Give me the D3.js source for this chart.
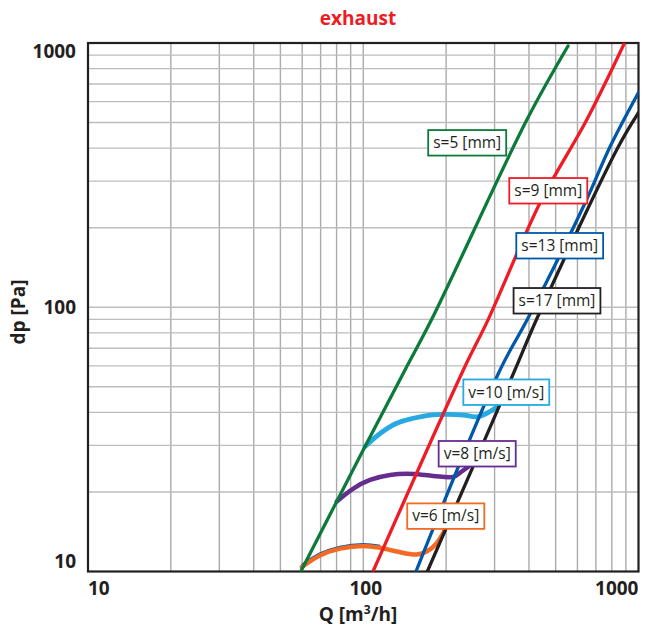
<!DOCTYPE html>
<html><head><meta charset="utf-8">
<script src="https://cdn.jsdelivr.net/npm/d3@7"></script>
<style>
html,body{margin:0;padding:0;background:#fff;}
svg{display:block;font-family:"Open Sans","Noto Sans",sans-serif;}
</style></head>
<body>
<svg id="chart" width="652" height="631"></svg>
<script>
// ---------- data ----------
const xTickValues = [10, 100, 1000];
const yTickValues = [10, 100, 1000];
const xTickLabels = ["10", "100", "1000"];
const yTickLabels = ["10", "100", "1000"];
const titleText = "exhaust";
const xTitle = "Q [m³/h]";
const yTitle = "dp [Pa]";

// s-lines (Q [m3/h], dp [Pa])
const s5Q  = [59.3, 101.5, 141.8, 177.3, 392.6, 554.6];
const s5Dp = [10, 29.7, 57.9, 90.0, 511, 974];
const s9Q  = [108.5, 231, 284.6, 438.6, 648, 886];
const s9Dp = [10, 57.9, 90.0, 248, 511, 991];
const s13Q  = [155.4, 314, 397, 639, 788, 1000];
const s13Dp = [10, 57.9, 91, 247.5, 405, 650];
const s17Q  = [170.9, 355.8, 426.8, 844.6, 1000];
const s17Dp = [10, 57.9, 90.3, 405, 545];

// v-curves
const v10Q  = [101.5, 115.1, 132.3, 152.0, 174.8, 201.0, 231.0, 258.4, 280.9, 309.5];
const v10Dp = [29.7, 33.3, 36.4, 38.0, 39.1, 39.3, 39.1, 38.5, 39.7, 42.3];
const v8Q  = [80.1, 92.0, 105.8, 125.1, 152.0, 179.7, 212.4, 227.9, 240.8];
const v8Dp = [18.4, 20.6, 22.2, 23.2, 23.4, 23.0, 22.8, 23.9, 24.9];
const v6Q  = [59.8, 69.6, 82.3, 100.0, 115.1, 132.3, 156.4, 170.1, 184.9, 198.2];
const v6Dp = [10.4, 11.5, 12.2, 12.5, 12.3, 11.9, 11.6, 11.9, 12.8, 14.4];

const seriesNames = ["s=5 [mm]", "s=9 [mm]", "s=13 [mm]", "s=17 [mm]", "v=10 [m/s]", "v=8 [m/s]", "v=6 [m/s]"];
// label anchor (box centre) in data units
const labelQ  = [238.6, 470.1, 517.3, 505.7, 330.9, 259.4, 199.4];
const labelDp = [419, 275.9, 170.9, 105.8, 47.7, 27.9, 16.2];

// ---------- layout / style ----------
const W = 652, H = 631;
const plot = {left: 88, right: 638.5, top: 43, bottom: 571.5};
const colors = {
  s5: "#0b7a3b", s9: "#ee1d25", s13: "#0058a9", s17: "#231f20",
  v10: "#27aae1", v8: "#662d91", v6: "#f26a24"
};
const textColor = "#231f20";

const svg = d3.select("#chart");
const x = d3.scaleLog().domain([10, 1000]).range([plot.left, plot.right]);
const y = d3.scaleLog().domain([10, 1000]).range([plot.bottom, plot.top]);

svg.append("defs").append("clipPath").attr("id", "clip")
  .append("rect").attr("x", plot.left).attr("y", plot.top)
  .attr("width", plot.right - plot.left).attr("height", plot.bottom - plot.top);

// gridlines
const gridVals = [];
for (let d = 10; d < 1000; d *= 10) for (let k = 1; k <= 10; k++) gridVals.push(d * k);
const uniq = Array.from(new Set(gridVals.map(v => Math.round(v)))).filter(v => v > 10 && v < 1000);
const grid = svg.append("g");
grid.selectAll("line.gx").data(uniq).join("line")
  .attr("x1", d => x(d)).attr("x2", d => x(d))
  .attr("y1", plot.top).attr("y2", plot.bottom)
  .attr("stroke", "#ababab").attr("stroke-width", 1.4);
grid.selectAll("line.gy").data(uniq).join("line")
  .attr("y1", d => y(d)).attr("y2", d => y(d))
  .attr("x1", plot.left).attr("x2", plot.right)
  .attr("stroke", "#bdbdbd").attr("stroke-width", 1.4);

// frame
svg.append("rect").attr("x", plot.left).attr("y", plot.top)
  .attr("width", plot.right - plot.left).attr("height", plot.bottom - plot.top)
  .attr("fill", "none").attr("stroke", textColor).attr("stroke-width", 2.2);

const toPts = (qs, ds) => qs.map((q, i) => [q, ds[i]]);
const lineSmooth = d3.line().x(d => x(d[0])).y(d => y(d[1])).curve(d3.curveCatmullRom.alpha(0.5));
const lines = svg.append("g").attr("clip-path", "url(#clip)");

// v-curves first (under s-lines)
// blue shadow under the beginning of v=6
lines.append("path").datum(toPts(v6Q.slice(0, 5), v6Dp.slice(0, 5)))
  .attr("d", lineSmooth).attr("fill", "none").attr("stroke", colors.s13)
  .attr("stroke-width", 3).attr("transform", "translate(0,-1.5)");
[[v10Q, v10Dp, colors.v10, 4.8], [v8Q, v8Dp, colors.v8, 4.5], [v6Q, v6Dp, colors.v6, 4.5]].forEach(s => {
  lines.append("path").datum(toPts(s[0], s[1])).attr("d", lineSmooth)
    .attr("fill", "none").attr("stroke", s[2]).attr("stroke-width", s[3])
    .attr("stroke-linecap", "round");
});
[[s17Q, s17Dp, colors.s17], [s13Q, s13Dp, colors.s13], [s9Q, s9Dp, colors.s9], [s5Q, s5Dp, colors.s5]].forEach(s => {
  lines.append("path").datum(toPts(s[0], s[1])).attr("d", lineSmooth)
    .attr("fill", "none").attr("stroke", s[2]).attr("stroke-width", 3.3)
    .attr("stroke-linecap", "round");
});

// labels
const labelColors = [colors.s5, colors.s9, colors.s13, colors.s17, colors.v10, colors.v8, colors.v6];
seriesNames.forEach((name, i) => {
  const g = svg.append("g");
  const cx = x(labelQ[i]), cy = y(labelDp[i]);
  const rect = g.append("rect");
  const t = g.append("text").attr("x", cx).attr("y", cy + 5.3)
    .attr("text-anchor", "middle").attr("font-size", 15.5)
    .attr("fill", textColor).text(name);
  const bb = t.node().getBBox();
  const pad = 5, h = 25.5;
  rect.attr("x", cx - bb.width / 2 - pad).attr("y", cy - h / 2)
    .attr("width", bb.width + 2 * pad).attr("height", h)
    .attr("fill", "#fff").attr("stroke", labelColors[i]).attr("stroke-width", 1.8);
});

// tick labels
const xa = svg.append("g").attr("font-size", 19).attr("font-weight", "bold").attr("fill", textColor);
xTickValues.forEach((v, i) => {
  const anchor = i === 0 ? "start" : (i === xTickValues.length - 1 ? "end" : "middle");
  xa.append("text").attr("x", x(v) + (anchor === "middle" ? 2.5 : 0)).attr("y", 595)
    .attr("text-anchor", anchor).text(xTickLabels[i]);
});
const ya = svg.append("g").attr("font-size", 19).attr("font-weight", "bold").attr("fill", textColor);
yTickValues.forEach((v, i) => {
  let dy = 7;
  if (i === 0) dy = -3.8;
  if (i === yTickValues.length - 1) dy = 14.7;
  ya.append("text").attr("x", 76).attr("y", y(v) + dy)
    .attr("text-anchor", "end").text(yTickLabels[i]);
});

// titles
svg.append("text").attr("x", 358).attr("y", 25).attr("text-anchor", "middle")
  .attr("font-size", 19).attr("font-weight", "bold").attr("fill", "#ed1c24").text(titleText);
const xt = svg.append("text").attr("x", 358).attr("y", 621).attr("text-anchor", "middle")
  .attr("font-size", 19).attr("font-weight", "bold").attr("fill", textColor);
xt.append("tspan").text("Q [m");
xt.append("tspan").attr("font-size", 12).attr("dy", -7).text("3");
xt.append("tspan").attr("dy", 7).text("/h]");
svg.append("text").attr("transform", "translate(25,312) rotate(-90)")
  .attr("text-anchor", "middle").attr("font-size", 19).attr("font-weight", "bold")
  .attr("fill", textColor).text(yTitle);
</script>
</body></html>
